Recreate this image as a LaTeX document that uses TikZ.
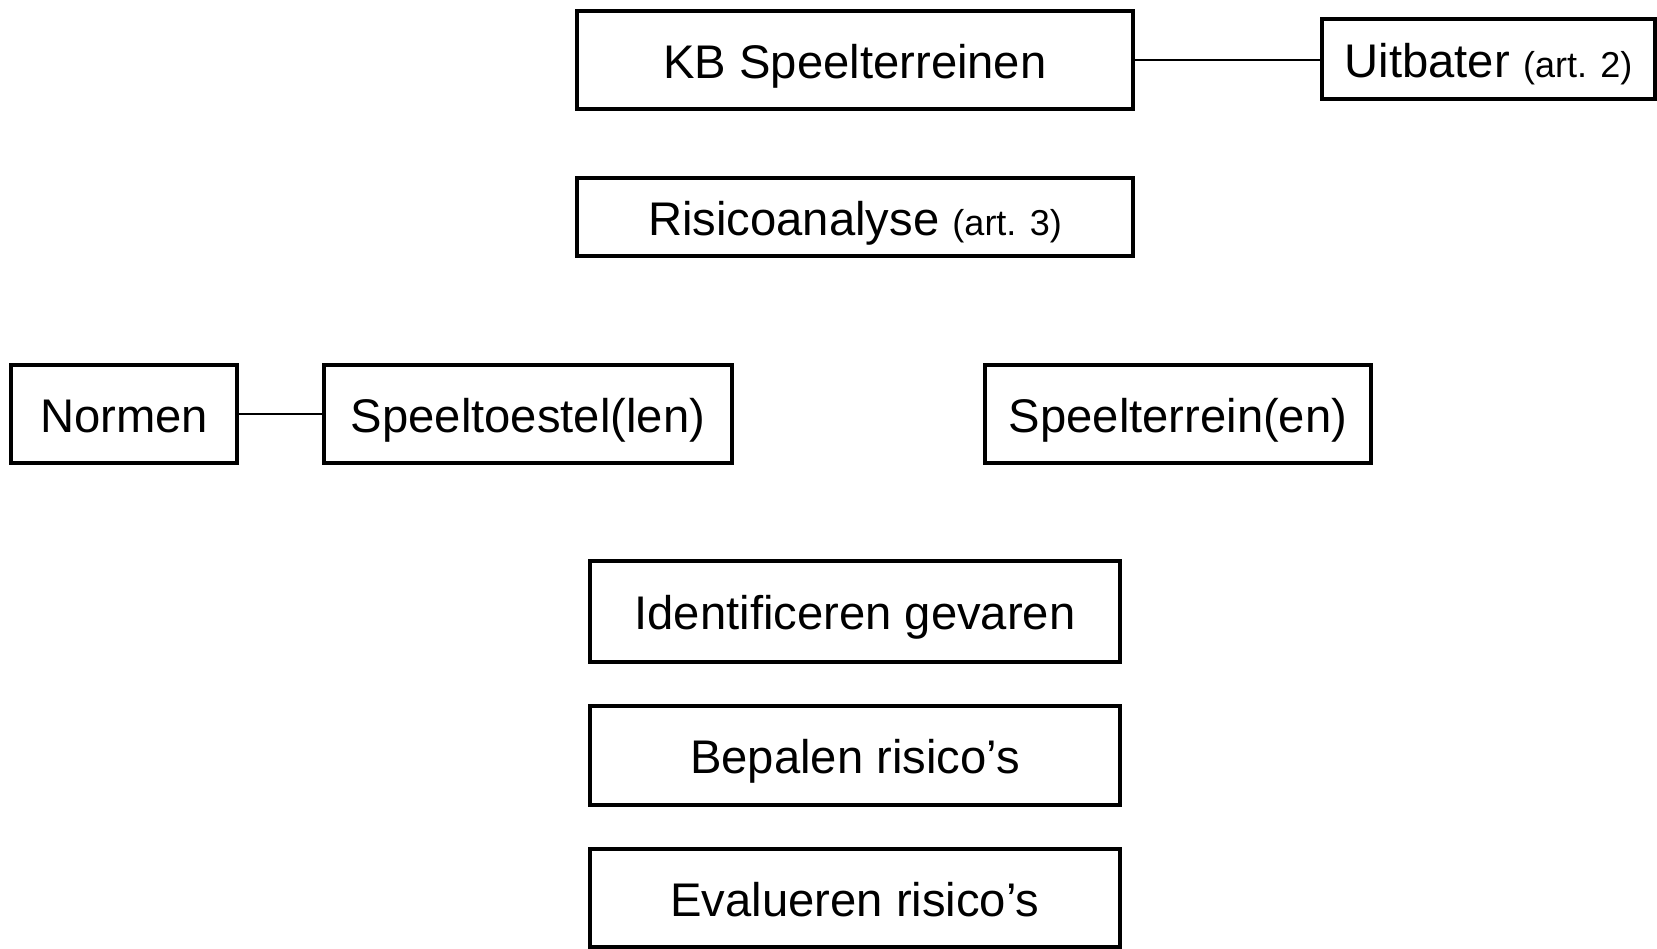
\documentclass[tikz,border=0pt]{standalone}
\usepackage{fontspec}
\setmainfont{Liberation Sans}
\begin{document}
\begin{tikzpicture}[x=0.5pt,y=-0.5pt,
  box/.style={draw=black, line width=2pt, inner sep=0pt, text height=19pt, text depth=1pt, font=\fontsize{23.6pt}{28pt}\selectfont, text=black},
  link/.style={draw=black, line width=1.2pt}]
\useasboundingbox (0,0) rectangle (1657,948);
\node[box, minimum width=278pt, minimum height=49pt] (kb) at (855,60) {KB Speelterreinen};
\node[box, minimum width=166.5pt, minimum height=40pt] (uit) at (1488.5,59) {Uitbater {\fontsize{18pt}{22pt}\selectfont (art. 2)}};
\node[box, minimum width=278pt, minimum height=39pt] (ris) at (855,217) {Risicoanalyse {\fontsize{18pt}{22pt}\selectfont (art. 3)}};
\node[box, minimum width=113pt, minimum height=49pt] (norm) at (124,414) {Normen};
\node[box, minimum width=204pt, minimum height=49pt] (toe) at (528,414) {Speeltoestel(len)};
\node[box, minimum width=193pt, minimum height=49pt] (ter) at (1178,414) {Speelterrein(en)};
\node[box, minimum width=265pt, minimum height=50.5pt] (ident) at (855,611.5) {Identificeren gevaren};
\node[box, minimum width=265pt, minimum height=49.5pt] (bep) at (855,755.5) {Bepalen risico’s};
\node[box, minimum width=265pt, minimum height=49pt] (eval) at (855,898) {Evalueren risico’s};
\draw[link] (kb.east) -- (kb.east -| uit.west);
\draw[link] (norm.east) -- (toe.west);
\end{tikzpicture}
\end{document}
